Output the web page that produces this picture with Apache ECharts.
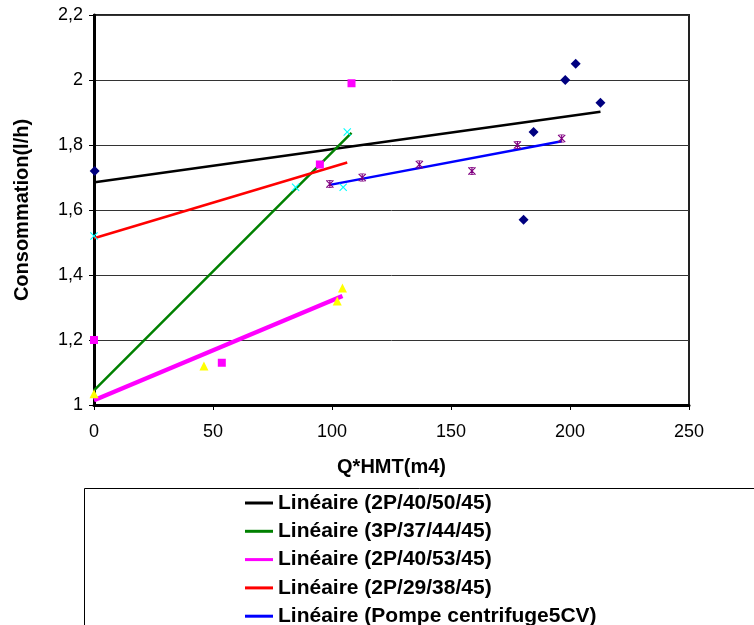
<!DOCTYPE html>
<html>
<head>
<meta charset="utf-8">
<script src="https://cdn.jsdelivr.net/npm/echarts@6/dist/echarts.min.js"></script>
<style>
html,body{margin:0;padding:0;background:#fff;}
#chart{width:754px;height:625px;}
</style>
</head>
<body>
<div id="chart"></div>
<script>
// Data
const xTicks = [0, 50, 100, 150, 200, 250];
const yTicks = [1, 1.2, 1.4, 1.6, 1.8, 2, 2.2];

const s1Name = '2P/40/50/45';
const s1x = [0.3, 180.5, 184.7, 198.0, 202.4, 212.8];
const s1y = [1.72, 1.57, 1.84, 2.00, 2.05, 1.93];

const s2Name = '3P/37/44/45';
const s2x = [0, 53.7, 94.9, 108.2];
const s2y = [1.20, 1.13, 1.74, 1.99];

const s3Name = '2P/40/53/45';
const s3x = [0, 46.2, 102.2, 104.4];
const s3y = [1.035, 1.12, 1.32, 1.36];

const s4Name = '2P/29/38/45';
const s4x = [0, 84.7, 104.7, 106.4];
const s4y = [1.52, 1.67, 1.67, 1.84];

const s5Name = 'Pompe centrifuge5CV';
const s5x = [99.1, 112.7, 136.7, 158.8, 177.9, 196.5];
const s5y = [1.68, 1.70, 1.74, 1.72, 1.80, 1.82];

function pairs(xs, ys) { return xs.map((x, i) => [x, ys[i]]); }
function trend(xs, ys) {
  const n = xs.length;
  const mx = xs.reduce((a, b) => a + b, 0) / n;
  const my = ys.reduce((a, b) => a + b, 0) / n;
  let sxx = 0, sxy = 0;
  for (let i = 0; i < n; i++) { sxx += (xs[i] - mx) ** 2; sxy += (xs[i] - mx) * (ys[i] - my); }
  const b = sxy / sxx, a = my - b * mx;
  const x0 = Math.min(...xs), x1 = Math.max(...xs);
  return [[x0, a + b * x0], [x1, a + b * x1]];
}

const xPath = 'path://M0,1 L1,0 L5,4 L9,0 L10,1 L6,5 L10,9 L9,10 L5,6 L1,10 L0,9 L4,5 Z';
const starPath = 'path://M0,1 L1,0 L5,4 L9,0 L10,1 L6,5 L10,9 L9,10 L5,6 L1,10 L0,9 L4,5 Z M4.3,0 L5.7,0 L5.7,10 L4.3,10 Z M2,0 L8,0 L8,1 L2,1 Z M2,9 L8,9 L8,10 L2,10 Z';

const FONT = '"Liberation Sans", Arial, sans-serif';

const trends = [
  { name: 'Linéaire (' + s1Name + ')', xs: s1x, ys: s1y, color: '#000000', width: 2.5 },
  { name: 'Linéaire (' + s2Name + ')', xs: s2x, ys: s2y, color: '#008000', width: 2.5 },
  { name: 'Linéaire (' + s3Name + ')', xs: s3x, ys: s3y, color: '#FF00FF', width: 4.5 },
  { name: 'Linéaire (' + s4Name + ')', xs: s4x, ys: s4y, color: '#FF0000', width: 2.5 },
  { name: 'Linéaire (' + s5Name + ')', xs: s5x, ys: s5y, color: '#0000FF', width: 2.5 }
];

const scatters = [
  { name: s1Name, xs: s1x, ys: s1y, symbol: 'diamond', size: 10, color: '#000080' },
  { name: s2Name, xs: s2x, ys: s2y, symbol: 'rect', size: 8, color: '#FF00FF' },
  { name: s3Name, xs: s3x, ys: s3y, symbol: 'triangle', size: 9, color: '#FFFF00' },
  { name: s4Name, xs: s4x, ys: s4y, symbol: xPath, size: 8, color: '#00FFFF' },
  { name: s5Name, xs: s5x, ys: s5y, symbol: starPath, size: 8, color: '#800080' }
];

const series = [];
trends.forEach(t => series.push({
  name: t.name, type: 'line', data: trend(t.xs, t.ys), showSymbol: false, symbol: 'none',
  lineStyle: { color: t.color, width: t.width }, itemStyle: { color: t.color },
  silent: true, animation: false, z: 2
}));
scatters.forEach(s => series.push({
  name: s.name, type: 'scatter', data: pairs(s.xs, s.ys), symbol: s.symbol, symbolSize: s.size,
  itemStyle: { color: s.color, opacity: 1 }, animation: false, z: 3
}));

const chart = echarts.init(document.getElementById('chart'), null, { renderer: 'canvas' });
chart.setOption({
  backgroundColor: '#fff',
  animation: false,
  grid: { left: 94, right: 65, top: 15, bottom: 220, show: true, borderColor: '#222', borderWidth: 2, backgroundColor: 'transparent' },
  xAxis: {
    type: 'value', min: xTicks[0], max: xTicks[xTicks.length - 1], interval: 50,
    name: 'Q*HMT(m4)', nameLocation: 'middle', nameGap: 52,
    nameTextStyle: { fontFamily: FONT, fontWeight: 'bold', fontSize: 20, color: '#000' },
    axisLine: { show: true, onZero: false, lineStyle: { color: '#000', width: 3 } },
    axisTick: { show: true, inside: false, length: 5, lineStyle: { color: '#000', width: 1 } },
    axisLabel: { fontFamily: FONT, fontSize: 18, color: '#000', margin: 18 },
    splitLine: { show: false }
  },
  yAxis: {
    type: 'value', min: yTicks[0], max: yTicks[yTicks.length - 1], interval: 0.2,
    name: 'Consommation(l/h)', nameLocation: 'middle', nameGap: 62,
    nameTextStyle: { fontFamily: FONT, fontWeight: 'bold', fontSize: 20, color: '#000' },
    axisLine: { show: true, onZero: false, lineStyle: { color: '#000', width: 3 } },
    axisTick: { show: true, inside: false, length: 5, lineStyle: { color: '#000', width: 1 } },
    axisLabel: {
      fontFamily: FONT, fontSize: 18, color: '#000', margin: 11,
      formatter: v => String(Math.round(v * 10) / 10).replace('.', ',')
    },
    splitLine: { show: true, lineStyle: { color: '#333', width: 1 } }
  },
  legend: {
    data: trends.map(t => t.name),
    orient: 'vertical', left: 245, top: 492, height: 200, padding: 0,
    itemWidth: 28, itemHeight: 3, itemGap: 6.3, icon: 'rect',
    textStyle: { fontFamily: FONT, fontWeight: 'bold', fontSize: 21, color: '#000', lineHeight: 22 },
    selectedMode: false
  },
  graphic: [{
    type: 'rect', left: 84, top: 488, z: -1,
    shape: { width: 700, height: 160 },
    style: { fill: '#fff', stroke: '#000', lineWidth: 1 }
  }],
  series: series
});
</script>
</body>
</html>
